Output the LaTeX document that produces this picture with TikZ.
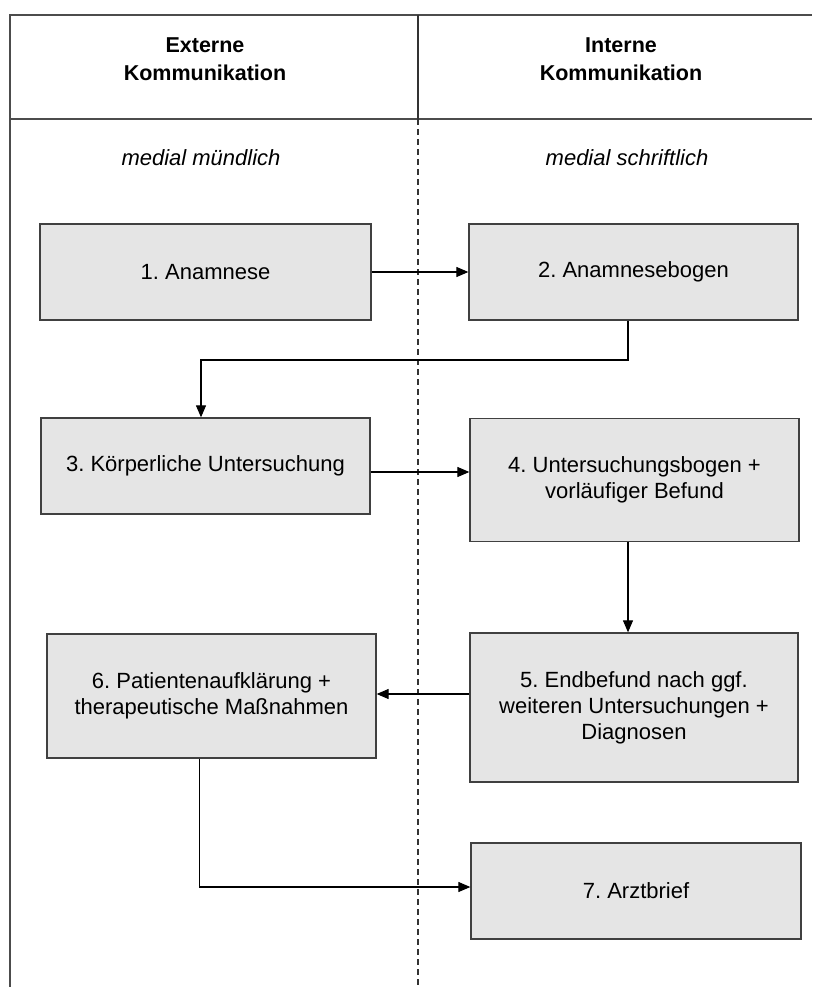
\documentclass[tikz,border=0pt]{standalone}
\usepackage{fontspec}
\setmainfont{Liberation Sans}
\usetikzlibrary{arrows.meta,calc}
\frenchspacing

\tikzset{
  stepbox/.style={draw=black!75, line width=1.3pt, fill=black!10, align=center,
    inner sep=0pt, font=\fontsize{22}{26}\selectfont},
  arr/.style={draw=black, line width=1.1pt, -{Triangle[length=12pt,width=10pt]}},
  frame/.style={draw=black!70, line width=1.6pt},
  head/.style={align=center, font=\fontsize{21.5}{28}\selectfont\bfseries},
  lane/.style={font=\fontsize{22}{26}\selectfont\itshape}
}

\begin{document}
\begin{tikzpicture}[x=1pt,y=-1pt]
  \useasboundingbox (0,0) rectangle (812,987);

  % table frame and lane divider
  \draw[frame] (10,987) -- (10,15) -- (812,15);
  \draw[frame] (10,119) -- (812,119);
  \draw[draw=black!80, line width=1.1pt] (418,15) -- (418,119);
  \draw[draw=black!80, line width=1.1pt, dash pattern=on 6pt off 4pt] (418,119) -- (418,987);

  % column headings
  \node[head] (hext) at (205,59) {Externe\\Kommunikation};
  \node[head] (hint) at (621,59) {Interne\\Kommunikation};
  \node[lane] (lext) at (201,158) {medial mündlich};
  \node[lane] (lint) at (627,158) {medial schriftlich};

  % process steps
  \node[stepbox, minimum width=331pt, minimum height=96pt] (b1) at (205.5,272) {1. Anamnese};
  \node[stepbox, minimum width=329pt, minimum height=96pt] (b2) at (633.5,272) {2. Anamnesebogen};
  \node[stepbox, minimum width=329pt, minimum height=96pt] (b3) at (205.5,466) {3. Körperliche Untersuchung};
  \node[stepbox, minimum width=329pt, minimum height=123pt] (b4) at (634.5,480) {4. Untersuchungsbogen +\\vorläufiger Befund};
  \node[stepbox, minimum width=328pt, minimum height=149pt] (b5) at (634,707.5) {5. Endbefund nach ggf.\\weiteren Untersuchungen +\\Diagnosen};
  \node[stepbox, minimum width=329pt, minimum height=124pt] (b6) at (211.5,696) {6. Patientenaufklärung +\\therapeutische Maßnahmen};
  \node[stepbox, minimum width=330pt, minimum height=96pt] (b7) at (636,891) {7. Arztbrief};

  % connectors
  \coordinate (c2) at ($(b2.south)+(-5.5,0)$);
  \coordinate (c3) at ($(b3.north)+(-4.5,0)$);
  \coordinate (c4) at ($(b4.south)+(-6.5,0)$);
  \coordinate (c6) at ($(b6.south)+(-12,0)$);

  \draw[arr] (b1.east) -- (b2.west);
  \draw[arr] (c2) -- (c2 |- 0,360) -- (c3 |- 0,360) -- (c3);
  \draw[arr] ([yshift=-6pt]b3.east) -- ([yshift=-6pt]b3.east -| b4.west);
  \draw[arr] (c4) -- (c4 |- b5.north);
  \draw[arr] ([yshift=2pt]b6.east -| b5.west) -- ([yshift=2pt]b6.east);
  \draw[arr] (c6) |- ([yshift=4pt]b7.west);
\end{tikzpicture}
\end{document}
